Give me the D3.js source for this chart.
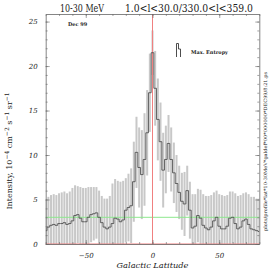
<!DOCTYPE html>
<html>
<head>
<meta charset="utf-8">
<script src="https://cdn.jsdelivr.net/npm/d3@7/dist/d3.min.js"></script>
<style>
  html, body { margin: 0; padding: 0; background: #fff; }
  svg { display: block; }
  text { font-family: "DejaVu Serif", "Liberation Serif", serif; fill: #222; }
</style>
</head>
<body>
<div id="chart"></div>
<script>
// galactic latitude bin centres (deg)
const latitudes = d3.range(-80, 81, 2);
// intensity, 10^-4 cm^-2 s^-1 sr^-1
const intensity = [
  1.5, 1.9, 2.1, 2.2, 2.1, 2.3, 2.3, 2.4, 2.2, 2.3,
  2.6, 3.2, 3.3, 2.9, 2.5, 2.5, 3.0, 3.3, 3.4, 3.5,
  3.0, 2.4, 1.9, 1.7, 1.9, 2.3, 2.9, 2.8, 2.5, 2.7,
  3.8, 4.1, 4.3, 7.0, 10.3, 8.6, 7.8, 9.5, 12.5, 17.0,
  21.5,
  17.5, 14.0, 11.5, 8.3, 9.5, 11.3, 9.5, 8.0, 6.8, 5.8,
  4.8, 4.5, 6.0, 3.8, 1.8, 2.0, 3.2, 2.9, 2.1, 1.8,
  1.6, 1.9, 2.6, 3.0, 2.0, 1.7, 1.7, 2.0, 2.9, 3.0,
  2.3, 1.7, 1.9, 2.6, 2.8, 2.2, 1.7, 1.6, 1.5, 1.4
];
// error half widths
const errors = [
  3.5, 3.4, 3.4, 3.4, 3.4, 3.4, 3.5, 3.5, 3.5, 3.6,
  3.7, 3.4, 3.2, 3.5, 3.8, 3.8, 3.4, 3.1, 3.0, 2.9,
  3.0, 3.0, 3.2, 3.4, 3.5, 4.5, 4.4, 4.3, 4.5, 4.4,
  3.6, 3.8, 4.2, 4.5, 4.0, 4.5, 5.0, 5.2, 4.8, 4.4,
  2.5,
  4.2, 4.6, 4.4, 4.2, 3.8, 3.2, 3.6, 3.4, 3.2, 3.0,
  3.2, 3.6, 2.8, 3.2, 3.8, 3.6, 3.0, 3.2, 3.5, 3.6,
  3.8, 3.6, 3.2, 3.0, 3.6, 3.8, 3.7, 3.5, 3.0, 2.9,
  3.4, 3.7, 3.6, 3.1, 3.0, 3.4, 3.6, 3.7, 3.6, 3.7
];
const xTicks = [-50, 0, 50];
const yTicks = [0, 5, 10, 15, 20, 25];
const refLevel = 3.0;

const width = 273, height = 273;
const svg = d3.select('#chart').append('svg').attr('width', width).attr('height', height);

const x = d3.scaleLinear().domain([-80, 80]).range([45.7, 259.3]);
const y = d3.scaleLinear().domain([0, 25.85]).range([244, 14]);

const plot = svg.append('g');
svg.append('clipPath').attr('id', 'clip').append('rect')
  .attr('x', x(-80)).attr('y', y(25.85)).attr('width', x(80) - x(-80)).attr('height', y(0) - y(25.85));

const data = latitudes.map((l, i) => ({ lat: l, v: intensity[i], e: errors[i] }));

// error bars
plot.append('g').attr('clip-path', 'url(#clip)')
  .selectAll('rect').data(data).enter().append('rect')
  .attr('x', d => x(d.lat) - 1)
  .attr('width', 2)
  .attr('y', d => y(d.v + d.e))
  .attr('height', d => y(Math.max(0, d.v - d.e)) - y(d.v + d.e))
  .attr('fill', '#c8c8c8');

// reference lines
plot.append('line').attr('x1', x(-80)).attr('x2', x(80)).attr('y1', y(refLevel)).attr('y2', y(refLevel))
  .attr('stroke', '#8ee88e').attr('stroke-width', 1);
plot.append('line').attr('x1', x(-80)).attr('x2', x(80)).attr('y1', y(0)).attr('y2', y(0))
  .attr('stroke', '#f08080').attr('stroke-width', 1.2);
plot.append('line').attr('x1', x(0)).attr('x2', x(0)).attr('y1', y(0)).attr('y2', y(25.85))
  .attr('stroke', '#f08080').attr('stroke-width', 1);

// profile
const line = d3.line().x(d => x(d.lat)).y(d => y(d.v)).curve(d3.curveStep);
plot.append('path').datum(data).attr('clip-path', 'url(#clip)')
  .attr('d', line).attr('fill', 'none').attr('stroke', '#444').attr('stroke-width', 0.8);

// axes
const axColor = '#666';
function styleAxis(g) {
  g.select('.domain').attr('stroke', axColor).attr('stroke-width', 0.8);
  g.selectAll('.tick line').attr('stroke', axColor).attr('stroke-width', 0.6);
  g.selectAll('text').attr('font-family', '"DejaVu Serif", serif').attr('font-style', 'italic')
    .attr('font-size', 7).attr('fill', '#333');
}
const minorX = d3.range(-80, 81, 10);
const minorY = d3.range(0, 26, 1);
const fmt = d => String(d).replace('-', '\u2212');

svg.append('g').attr('transform', `translate(0,${y(0)})`)
  .call(d3.axisBottom(x).tickValues(minorX).tickSize(-2).tickSizeOuter(0).tickFormat(''))
  .call(styleAxis);
svg.append('g').attr('transform', `translate(0,${y(0)})`)
  .call(d3.axisBottom(x).tickValues(xTicks).tickSize(-4).tickPadding(9).tickFormat(fmt))
  .call(styleAxis).call(g => g.select('.domain').remove());
svg.append('g').attr('transform', `translate(0,${y(25.85)})`)
  .call(d3.axisTop(x).tickValues(minorX).tickSize(-2).tickSizeOuter(0).tickFormat(''))
  .call(styleAxis);
svg.append('g').attr('transform', `translate(0,${y(25.85)})`)
  .call(d3.axisTop(x).tickValues(xTicks).tickSize(-4).tickFormat(''))
  .call(styleAxis).call(g => g.select('.domain').remove());

svg.append('g').attr('transform', `translate(${x(-80)},0)`)
  .call(d3.axisLeft(y).tickValues(minorY).tickSize(-2).tickSizeOuter(0).tickFormat(''))
  .call(styleAxis);
svg.append('g').attr('transform', `translate(${x(-80)},0)`)
  .call(d3.axisLeft(y).tickValues(yTicks).tickSize(-4).tickPadding(8))
  .call(styleAxis).call(g => g.select('.domain').remove());
svg.append('g').attr('transform', `translate(${x(80)},0)`)
  .call(d3.axisRight(y).tickValues(minorY).tickSize(-2).tickSizeOuter(0).tickFormat(''))
  .call(styleAxis);
svg.append('g').attr('transform', `translate(${x(80)},0)`)
  .call(d3.axisRight(y).tickValues(yTicks).tickSize(-4).tickFormat(''))
  .call(styleAxis).call(g => g.select('.domain').remove());

// titles
svg.append('text').attr('x', 60).attr('y', 11.5).attr('font-size', 10.5)
  .attr('fill', '#333')
  .attr('textLength', 44).attr('lengthAdjust', 'spacingAndGlyphs').text('10-30 MeV');
svg.append('text').attr('x', 125).attr('y', 11.5).attr('font-size', 10.5)
  .attr('fill', '#333')
  .attr('textLength', 128).attr('lengthAdjust', 'spacingAndGlyphs').text('1.0<l<30.0/330.0<l<359.0');

svg.append('text').attr('x', x(0)).attr('y', 268).attr('text-anchor', 'middle')
  .attr('font-size', 8).attr('font-style', 'italic')
  .attr('textLength', 72).attr('lengthAdjust', 'spacingAndGlyphs').text('Galactic Latitude');

const yl = svg.append('text').attr('transform', 'translate(12,151) rotate(-90)')
  .attr('text-anchor', 'middle').attr('font-size', 8).attr('fill', '#333');
yl.append('tspan').text('Intensity, 10');
yl.append('tspan').attr('dy', -3).attr('font-size', 6).text('\u22124');
yl.append('tspan').attr('dy', 3).text(' cm');
yl.append('tspan').attr('dy', -3).attr('font-size', 6).text('\u22122');
yl.append('tspan').attr('dy', 3).text(' s');
yl.append('tspan').attr('dy', -3).attr('font-size', 6).text('\u22121');
yl.append('tspan').attr('dy', 3).text(' sr');
yl.append('tspan').attr('dy', -3).attr('font-size', 6).text('\u22121');

svg.append('text').attr('x', 68).attr('y', 26).attr('font-size', 5).attr('font-weight', 'bold')
  .text('Dec 99');

// legend
svg.append('path').attr('d', 'M176.5,57 V43.5 H178.5 V49 H180.5 V57')
  .attr('fill', 'none').attr('stroke', '#3a3a3a').attr('stroke-width', 0.9);
svg.append('text').attr('x', 191).attr('y', 54).attr('font-size', 5).attr('font-weight', 'bold')
  .attr('textLength', 37).attr('lengthAdjust', 'spacingAndGlyphs').text('Max. Entropy');

svg.append('text').attr('transform', 'translate(267,231) rotate(-90)')
  .attr('font-size', 4.6).attr('textLength', 159).attr('lengthAdjust', 'spacingAndGlyphs')
  .text('plots/profile*lat*10-30MeV*galdef*00*000000*DEC99/8:21.ps');
</script>
</body>
</html>
